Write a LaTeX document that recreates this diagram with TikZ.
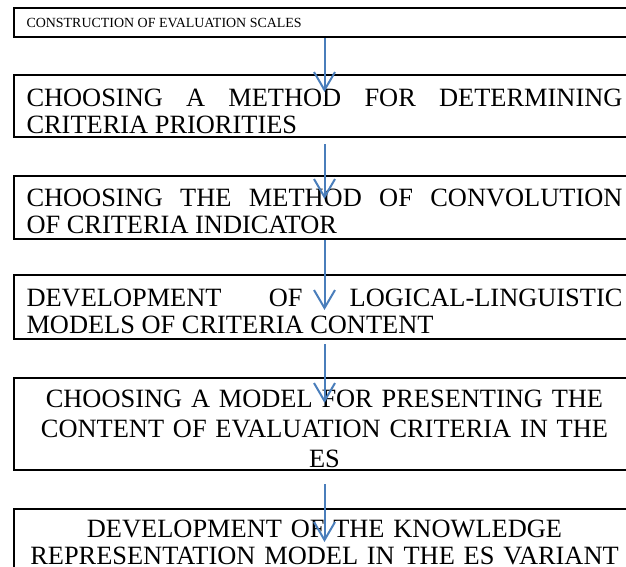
\documentclass[tikz,border=0pt]{standalone}
\usepackage{fontspec}
\setmainfont{Liberation Serif}
\usetikzlibrary{arrows.meta}
\definecolor{flowblue}{RGB}{74,126,187}
\newcommand{\stagefont}{\fontsize{26.5}{27}\selectfont}
\newcommand{\wideskip}{\fontsize{26.5}{30}\selectfont}
\newcommand{\headfont}{\fontsize{14}{16}\selectfont}
\hyphenpenalty=10000
\exhyphenpenalty=10000

\begin{document}
\begin{tikzpicture}[x=1bp,y=-1bp,
	stage/.style={draw,line width=2bp,anchor=north west,inner xsep=12.5bp,inner ysep=0pt,
		text width=596bp,align=justify,font=\stagefont},
	flow/.style={draw=flowblue,line width=2bp,-{Straight Barb[length=18bp,width=21bp]}}]
	\useasboundingbox (0,0) rectangle (626,567);

	% text height = first baseline below the top edge, text depth = the rest
	\node[stage,font=\headfont,text height=19.5bp,text depth=9.5bp] (scales) at (13,7)
		{CONSTRUCTION OF EVALUATION SCALES};
	\node[stage,text height=31.5bp,text depth=30.5bp] (priority) at (13,74)
		{CHOOSING A METHOD FOR DETERMINING\linebreak CRITERIA PRIORITIES};
	\node[stage,text height=30.5bp,text depth=32.5bp] (convol) at (13,175)
		{CHOOSING THE METHOD OF CONVOLUTION\linebreak OF CRITERIA INDICATOR};
	\node[stage,text height=31.5bp,text depth=32.5bp] (models) at (13,274)
		{DEVELOPMENT OF LOGICAL-LINGUISTIC\linebreak MODELS OF CRITERIA CONTENT};
	\node[stage,align=center,font=\wideskip,text height=29.5bp,text depth=62.5bp] (present) at (13,377)
		{CHOOSING A MODEL FOR PRESENTING THE\\CONTENT OF EVALUATION CRITERIA IN THE\\ES};
	\node[stage,align=center,text height=28.5bp,text depth=34bp] (knowl) at (13,508)
		{DEVELOPMENT OF THE KNOWLEDGE\\REPRESENTATION MODEL IN THE ES VARIANT};

	% arrows between the stages
	\draw[flow] (scales.south) -- ([yshift=-18bp]priority.north);
	\draw[flow] ([yshift=-6bp]priority.south) -- ([yshift=-24bp]convol.north);
	\draw[flow] (convol.south) -- ([yshift=-36bp]models.north);
	\draw[flow] ([yshift=-4bp]models.south) -- ([yshift=-26bp]present.north);
	\draw[flow] ([yshift=-13bp]present.south) -- ([yshift=-34bp]knowl.north);
\end{tikzpicture}
\end{document}
